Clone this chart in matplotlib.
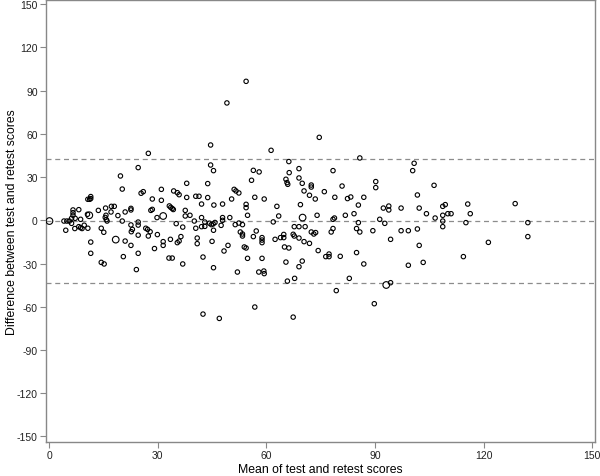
import matplotlib
matplotlib.use('Agg')
import matplotlib.pyplot as plt

plt.rcParams['font.family'] = ['Liberation Sans', 'DejaVu Sans']
plt.rcParams['axes.unicode_minus'] = False

# mean of test and retest, difference, and number of overlapping subjects
mean_scores = [
    0.1, 4.1, 4.9, 4.6, 5.6, 6.2, 6.2, 6.6, 6.6, 6.6, 7.2, 7.1, 8.2, 8.2, 8.7, 8.7,
    9.1, 9.7, 10.7, 10.7, 11.2, 11.5, 11.5, 10.6, 11.1, 11.5, 11.5, 13.6, 14.4, 15.1,
    14.4, 15.2, 15.6, 15.5, 15.8, 16.0, 15.7, 17.2, 18.0, 17.1, 18.4, 19.0, 19.7, 20.2,
    20.2, 21.0, 20.5, 21.0, 22.6, 22.6, 22.6, 23.0, 22.7, 22.6, 24.1, 24.6, 24.6, 24.6,
    24.6, 24.6, 27.4, 25.4, 26.0, 28.5, 31.0, 31.0, 28.1, 28.5, 29.8, 31.5, 26.7, 27.2,
    27.9, 27.4, 29.1, 29.9, 31.5, 31.5, 33.1, 34.0, 33.5, 34.4, 35.4, 35.9, 33.2, 33.6,
    34.0, 34.3, 35.1, 35.4, 35.9, 36.4, 36.9, 37.6, 37.6, 36.9, 38.0, 38.0, 38.9, 40.1,
    40.5, 41.4, 42.1, 40.5, 40.9, 40.9, 42.1, 42.5, 42.5, 43.0, 43.0, 42.1, 43.8, 43.8,
    44.6, 44.6, 45.4, 45.5, 44.3, 44.8, 45.3, 45.8, 45.0, 45.4, 45.4, 47.0, 47.9, 47.9,
    47.9, 47.5, 48.3, 49.4, 54.4, 49.1, 61.3, 74.6, 56.4, 58.0, 55.9, 51.1, 51.6, 52.4,
    50.4, 54.4, 54.4, 56.8, 59.4, 54.8, 49.9, 51.4, 52.4, 53.4, 52.8, 53.4, 53.4, 57.2,
    56.4, 53.9, 54.4, 54.8, 52.0, 57.9, 59.3, 59.4, 58.8, 58.8, 58.8, 58.8, 56.8, 61.9,
    62.9, 63.4, 62.4, 63.9, 64.8, 64.8, 65.0, 66.2, 65.4, 65.8, 67.8, 67.4, 66.2, 66.3,
    65.4, 65.7, 65.9, 69.0, 69.0, 69.9, 70.4, 72.4, 72.4, 71.9, 73.5, 69.4, 70.0, 74.0,
    67.7, 69.0, 70.7, 67.4, 67.7, 69.0, 70.4, 71.9, 72.4, 73.1, 73.6, 74.3, 69.9, 69.0,
    85.8, 78.4, 76.0, 80.9, 78.9, 82.4, 83.3, 86.9, 85.4, 90.2, 90.2, 78.4, 78.8, 81.8,
    84.2, 85.4, 91.3, 92.7, 92.3, 93.8, 93.8, 97.2, 77.9, 78.4, 84.9, 85.8, 89.4, 94.3,
    97.2, 99.2, 76.4, 77.3, 77.3, 80.4, 84.9, 86.9, 99.2, 82.9, 79.3, 93.1, 94.3, 89.8,
    100.8, 100.4, 106.3, 101.7, 102.2, 104.2, 106.6, 108.7, 109.4, 108.7, 110.1, 111.0,
    108.7, 108.7, 115.6, 116.3, 115.1, 101.7, 102.2, 103.3, 114.4, 121.3, 128.7, 132.2,
    132.2,
]
diff_scores = [
    -0.5, -0.5, -0.5, -6.9, -0.5, -2.1, 1.4, 7.2, 5.3, 3.5, 1.4, -5.7, 7.4, -4.4, -5.1, 0.7,
    -5.7, -3.4, -5.5, 14.6, 14.6, 16.5, 15.1, 4.2, 3.5, -15.1, -22.9, 6.9, -5.5, -8.3,
    -29.2, -30.3, 8.5, 2.0, 0.5, -0.5, 3.5, 9.7, 9.7, 5.8, -13.4, 3.3, 30.8, 21.7,
    -0.5, 5.8, -25.2, -14.4, 8.3, 7.2, -3.2, -6.3, -7.9, -17.4, -34.2, -1.2, -3.3, -10.3,
    -22.9, 36.6, 46.5, 18.8, 19.9, 14.8, 21.5, 13.9, 6.9, 7.6, 1.9, 3.0, -5.5, -6.3,
    -7.9, -10.9, -19.6, -9.9, -14.8, -17.4, -26.2, -26.2, -13.2, 20.4, 19.2, 17.8, 10.0, 9.0,
    8.2, 7.5, -2.3, -15.5, -14.4, -11.3, -30.3, 6.9, 3.0, -4.7, 25.7, 15.9, 3.5, -0.5,
    16.7, 16.7, 11.3, -5.5, -12.3, -16.2, 1.9, -25.5, -65.1, -1.2, -4.2, -4.4, 25.5, 15.8,
    52.3, 38.4, 34.5, 10.6, -2.0, -3.0, -2.5, -1.5, -14.6, -6.9, -32.9, -68.1, 11.3, 1.9,
    0.0, -3.5, -21.3, -17.4, 96.5, 81.5, 48.6, 57.6, 34.7, 33.6, 27.8, 21.5, 20.4, 19.0,
    14.8, 11.1, 8.8, 16.0, 14.8, 3.5, 1.9, -3.0, -1.9, -3.0, -8.1, -9.5, -10.9, -7.4,
    -11.3, -18.5, -19.2, -26.4, -35.9, -35.9, -35.2, -37.0, -12.0, -13.7, -15.5, -26.4, -60.2, -1.1,
    9.7, 3.0, -13.2, -12.0, -12.0, -9.8, -18.5, -19.2, -29.0, -42.2, -40.3, -67.2, 40.8, 33.1,
    28.5, 26.2, 25.0, 35.9, 29.4, 25.7, 20.4, 24.5, 23.1, 17.4, 14.8, 10.9, 1.9, 3.5,
    -4.4, -4.4, -4.4, -9.7, -10.9, -12.3, -14.8, -16.0, -8.1, -9.5, -8.5, -21.0, -28.3, -32.2,
    43.3, 34.5, 19.9, 23.8, 16.0, 15.1, 16.2, 16.0, 10.6, 26.9, 22.7, 0.7, 1.6, 3.5,
    4.6, -1.6, 0.7, -2.1, 8.5, 9.9, 7.2, 8.5, -8.1, -5.7, -5.7, -8.1, -7.2, -13.2,
    -7.2, -7.2, -25.2, -23.4, -25.2, -25.0, -22.4, -30.3, -31.2, -40.3, -48.8, -44.9, -43.3, -57.9,
    39.6, 34.5, 24.3, 17.6, 8.5, 4.6, 1.6, 9.7, 10.9, 3.5, 4.6, 4.6,
    -0.5, -4.4, 11.3, 4.6, -1.6, -6.0, -17.4, -29.2, -25.2, -15.3, 11.6, -1.6,
    -11.3,
]
counts = [1] * len(mean_scores)
for i in (0, 24, 40, 69, 196, 251):
    counts[i] = 2

bias = -0.7
upper_loa = 42.4
lower_loa = -43.8

fig = plt.figure(figsize=(6, 4.77), dpi=100)
ax = fig.add_axes([0.077, 0.071, 0.915, 0.927])

sizes = [10 * c ** 1.2 for c in counts]
ax.scatter(mean_scores, diff_scores, s=sizes, facecolors='none',
           edgecolors='black', linewidths=0.8, zorder=3)

for yv in (upper_loa, bias, lower_loa):
    ax.axhline(yv, color='#8c8c8c', linestyle=(0, (4, 3)), linewidth=0.9, zorder=2)

ax.set_xlim(-0.8, 150.8)
ax.set_ylim(-154, 153)
ax.set_xticks(range(0, 151, 30))
ax.set_yticks(range(-150, 151, 30))

for sp in ax.spines.values():
    sp.set_color('#888888')
    sp.set_linewidth(1.0)
ax.tick_params(direction='out', length=4, width=0.8, color='#888888',
               labelsize=7.5, labelcolor='#222222', pad=2)

ax.set_xlabel('Mean of test and retest scores', fontsize=8.8, labelpad=2)
ax.set_ylabel('Difference between test and retest scores', fontsize=8.8)
ax.yaxis.set_label_coords(-0.052, 0.5)

fig.savefig('out.png', dpi=100)
